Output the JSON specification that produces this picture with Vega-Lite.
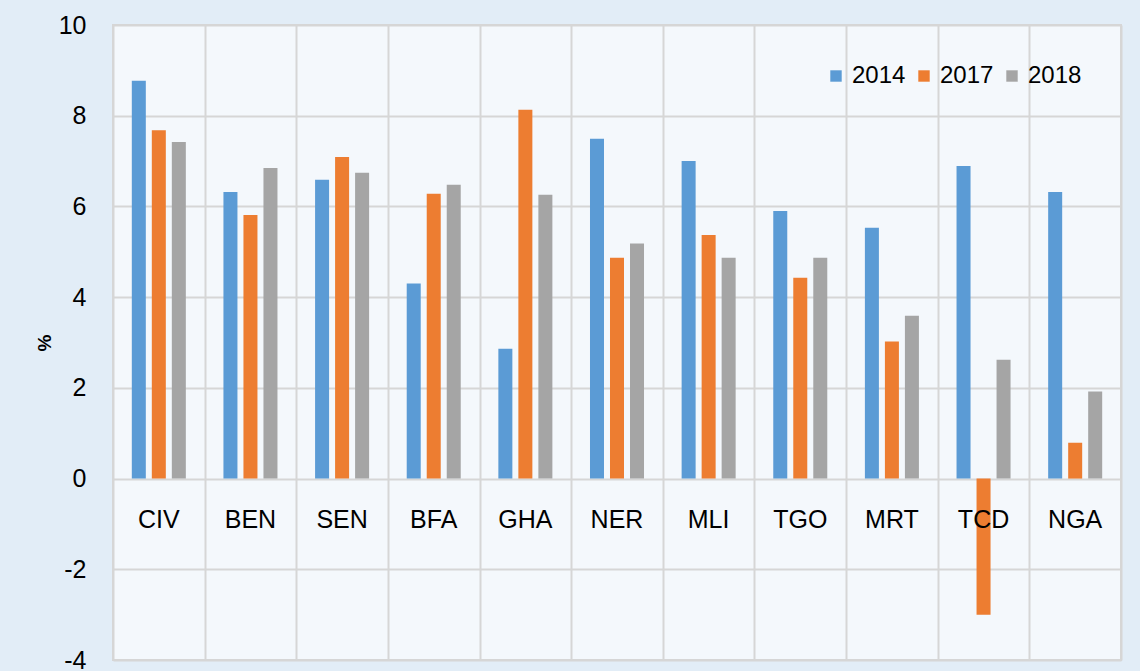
{
  "$schema": "https://vega.github.io/schema/vega-lite/v6.json",
  "width": 1008,
  "height": 635,
  "autosize": {"type": "none"},
  "padding": {"left": 113, "top": 25, "right": 19, "bottom": 11},
  "background": "#e2edf7",
  "config": {
    "font": "Liberation Sans",
    "view": {"fill": "#f4f8fc", "stroke": "#d6d6d6", "strokeWidth": 2}
  },
  "data": {
    "values": [
      {"country": "CIV", "year": "2014", "value": 8.77},
      {"country": "CIV", "year": "2017", "value": 7.68},
      {"country": "CIV", "year": "2018", "value": 7.42},
      {"country": "BEN", "year": "2014", "value": 6.32},
      {"country": "BEN", "year": "2017", "value": 5.81},
      {"country": "BEN", "year": "2018", "value": 6.85},
      {"country": "SEN", "year": "2014", "value": 6.59},
      {"country": "SEN", "year": "2017", "value": 7.09},
      {"country": "SEN", "year": "2018", "value": 6.74},
      {"country": "BFA", "year": "2014", "value": 4.30},
      {"country": "BFA", "year": "2017", "value": 6.28},
      {"country": "BFA", "year": "2018", "value": 6.48},
      {"country": "GHA", "year": "2014", "value": 2.86},
      {"country": "GHA", "year": "2017", "value": 8.13},
      {"country": "GHA", "year": "2018", "value": 6.26},
      {"country": "NER", "year": "2014", "value": 7.49},
      {"country": "NER", "year": "2017", "value": 4.87},
      {"country": "NER", "year": "2018", "value": 5.18},
      {"country": "MLI", "year": "2014", "value": 7.00},
      {"country": "MLI", "year": "2017", "value": 5.37},
      {"country": "MLI", "year": "2018", "value": 4.87},
      {"country": "TGO", "year": "2014", "value": 5.90},
      {"country": "TGO", "year": "2017", "value": 4.43},
      {"country": "TGO", "year": "2018", "value": 4.87},
      {"country": "MRT", "year": "2014", "value": 5.53},
      {"country": "MRT", "year": "2017", "value": 3.02},
      {"country": "MRT", "year": "2018", "value": 3.59},
      {"country": "TCD", "year": "2014", "value": 6.89},
      {"country": "TCD", "year": "2017", "value": -3.0},
      {"country": "TCD", "year": "2018", "value": 2.62},
      {"country": "NGA", "year": "2014", "value": 6.32},
      {"country": "NGA", "year": "2017", "value": 0.79},
      {"country": "NGA", "year": "2018", "value": 1.92}
    ]
  },
  "encoding": {
    "x": {
      "field": "country",
      "type": "nominal",
      "sort": null,
      "scale": {"paddingInner": 0, "paddingOuter": 0},
      "axis": {
        "title": null,
        "labels": false,
        "ticks": false,
        "domain": false,
        "grid": true,
        "tickBand": "extent",
        "gridColor": "#d6d6d6",
        "gridWidth": 2,
        "gridOpacity": 1
      }
    }
  },
  "layer": [
    {
      "mark": {"type": "bar"},
      "encoding": {
        "xOffset": {"field": "year", "type": "nominal", "scale": {"paddingInner": 0.3, "paddingOuter": 0.94}},
        "y": {
          "field": "value",
          "type": "quantitative",
          "scale": {"domain": [-4, 10], "nice": false, "zero": false},
          "axis": {
            "title": "%",
            "titleFontSize": 19,
            "titleFontWeight": "bold",
            "titleColor": "#000000",
            "titlePadding": 4,
            "values": [-4, -2, 0, 2, 4, 6, 8, 10],
            "labelExpr": "replace(datum.label, '\u2212', '-')",
            "labelFontSize": 25,
            "labelColor": "#000000",
            "labelPadding": 27,
            "ticks": false,
            "domain": false,
            "grid": true,
            "gridColor": "#d6d6d6",
            "gridWidth": 2,
            "gridOpacity": 1
          }
        },
        "color": {
          "field": "year",
          "type": "nominal",
          "scale": {"domain": ["2014", "2017", "2018"], "range": ["#5b9bd5", "#ed7d31", "#a5a5a5"]},
          "legend": {
            "title": null,
            "orient": "top-right",
            "direction": "horizontal",
            "offset": 39,
            "padding": 0,
            "symbolType": "square",
            "symbolSize": 130,
            "symbolStrokeWidth": 0,
            "labelFontSize": 24,
            "labelColor": "#000000",
            "labelOffset": 4,
            "columnPadding": 6
          }
        }
      }
    },
    {
      "transform": [{"filter": "datum.year === '2014'"}],
      "mark": {"type": "text", "fontSize": 25, "color": "#000000", "baseline": "alphabetic", "dy": 49},
      "encoding": {
        "y": {"datum": 0, "type": "quantitative"},
        "text": {"field": "country"}
      }
    }
  ]
}
